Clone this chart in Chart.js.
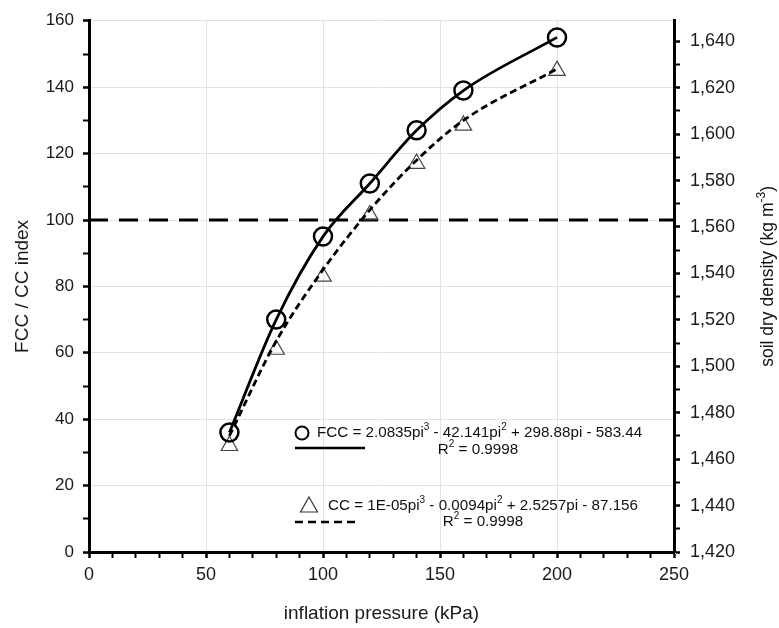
<!DOCTYPE html>
<html lang="en">
<head>
<meta charset="UTF-8">
<title>FCC / CC index vs inflation pressure</title>
<script src="https://cdn.jsdelivr.net/npm/chart.js@4.4.0/dist/chart.umd.min.js"></script>
<style>body{margin:0;background:#fff}</style>
</head>
<body>
<canvas id="chart" width="779" height="628"></canvas>
<script>
// values
const pressure = [60, 80, 100, 120, 140, 160, 200];
const fccIndex = [36, 70, 95, 111, 127, 139, 155];
const ccIndex = [32, 61, 83, 101.5, 117, 128.5, 145];
const ccTrend = [35, 63.5, 85, 103, 118, 130, 145.5];
const refLevel = 100;
const xRange = [0, 250];
const indexRange = [0, 160];
const densityRange = [1420, 1648.8];

const fccLabel = [['FCC = 2.0835pi'], ['3', 1], [' - 42.141pi'], ['2', 1], [' + 298.88pi - 583.44']];
const ccLabel = [['CC = 1E-05pi'], ['3', 1], [' - 0.0094pi'], ['2', 1], [' + 2.5257pi - 87.156']];
const r2Label = [['R'], ['2', 1], [' = 0.9998']];

const FONT = '"Liberation Sans", Arial, sans-serif';

function pts(xs, ys) {
    return xs.map((x, i) => ({x: x, y: ys[i]}));
}

function drawRich(ctx, parts, x, y, align, size) {
    const base = size + 'px ' + FONT;
    const sup = Math.round(size * 0.66) + 'px ' + FONT;
    let w = 0;
    parts.forEach(p => { ctx.font = p[1] ? sup : base; w += ctx.measureText(p[0]).width; });
    let cx = align === 'center' ? x - w / 2 : x;
    ctx.textAlign = 'left';
    ctx.textBaseline = 'middle';
    parts.forEach(p => {
        ctx.font = p[1] ? sup : base;
        ctx.fillText(p[0], cx, p[1] ? y - size * 0.35 : y);
        cx += ctx.measureText(p[0]).width;
    });
}

// equation boxes + right axis title
const extras = {
    id: 'extras',
    afterDraw(chart) {
        const ctx = chart.ctx;
        const ca = chart.chartArea;
        ctx.save();
        ctx.fillStyle = '#111';
        ctx.strokeStyle = '#000';

        // FCC entry
        let lx = ca.left + 213, ly = 433;
        ctx.lineWidth = 2;
        ctx.beginPath();
        ctx.arc(lx, ly, 6.5, 0, Math.PI * 2);
        ctx.stroke();
        drawRich(ctx, fccLabel, lx + 15, ly, 'left', 15.2);
        drawRich(ctx, r2Label, ca.left + 389, ly + 17, 'center', 15.2);
        ctx.lineWidth = 2.5;
        ctx.beginPath();
        ctx.moveTo(lx - 7, ly + 15);
        ctx.lineTo(lx + 63, ly + 15);
        ctx.stroke();

        // CC entry
        lx = ca.left + 220; ly = 506;
        ctx.lineWidth = 1.2;
        ctx.strokeStyle = '#333';
        ctx.beginPath();
        ctx.moveTo(lx, ly - 9);
        ctx.lineTo(lx + 8.5, ly + 6);
        ctx.lineTo(lx - 8.5, ly + 6);
        ctx.closePath();
        ctx.stroke();
        drawRich(ctx, ccLabel, lx + 19, ly, 'left', 15.2);
        drawRich(ctx, r2Label, ca.left + 394, ly + 16, 'center', 15.2);
        ctx.strokeStyle = '#000';
        ctx.lineWidth = 2.5;
        ctx.setLineDash([8, 5]);
        ctx.beginPath();
        ctx.moveTo(lx - 14, ly + 16);
        ctx.lineTo(lx + 50, ly + 16);
        ctx.stroke();
        ctx.setLineDash([]);

        // right axis title, reading bottom to top
        ctx.translate(768, (ca.top + ca.bottom) / 2 - 10);
        ctx.rotate(-Math.PI / 2);
        drawRich(ctx, [['soil dry density (kg m'], ['-3', 1], [')']], 0, 0, 'center', 17.5);
        ctx.restore();
    }
};

const gridFor = (major) => ({
    color: c => (c.tick && c.tick.value % major === 0) ? '#e2e2e2' : 'rgba(0,0,0,0)',
    lineWidth: 1,
    tickColor: '#000',
    tickWidth: c => (c.tick && c.tick.value % major === 0) ? 2.5 : 2,
    tickLength: 6
});

new Chart(document.getElementById('chart').getContext('2d'), {
    type: 'line',
    data: {
        datasets: [
            {
                label: 'FCC',
                data: pts(pressure, fccIndex),
                borderColor: '#000',
                borderWidth: 2.8,
                cubicInterpolationMode: 'monotone',
                pointStyle: 'circle',
                pointRadius: 9,
                pointBorderWidth: 2.5,
                pointBorderColor: '#000',
                pointBackgroundColor: 'rgba(0,0,0,0)',
                yAxisID: 'y',
                order: 1
            },
            {
                label: 'CC trend',
                data: pts(pressure, ccTrend),
                borderColor: '#000',
                borderWidth: 2.8,
                borderDash: [7, 4],
                cubicInterpolationMode: 'monotone',
                pointRadius: 0,
                yAxisID: 'y',
                order: 2
            },
            {
                label: 'CC',
                data: pts(pressure, ccIndex),
                showLine: false,
                pointStyle: 'triangle',
                pointRadius: 9.5,
                pointBorderWidth: 1.2,
                pointBorderColor: '#444',
                pointBackgroundColor: 'rgba(0,0,0,0)',
                yAxisID: 'y',
                order: 3
            },
            {
                label: 'index 100',
                data: pts(xRange, [refLevel, refLevel]),
                borderColor: '#000',
                borderWidth: 3,
                borderDash: [19, 11],
                pointRadius: 0,
                yAxisID: 'y',
                order: 4
            }
        ]
    },
    options: {
        responsive: false,
        animation: false,
        layout: {padding: {top: 17, left: 0, right: 0, bottom: 0}},
        plugins: {legend: {display: false}, tooltip: {enabled: false}},
        scales: {
            x: {
                type: 'linear',
                min: xRange[0],
                max: xRange[1],
                afterFit: s => { s.height = 76; },
                grid: gridFor(50),
                border: {color: '#000', width: 3},
                ticks: {
                    stepSize: 10,
                    autoSkip: false,
                    maxRotation: 0,
                    padding: 6,
                    color: '#1a1a1a',
                    font: {family: FONT, size: 18},
                    callback: v => v % 50 === 0 ? String(v) : ''
                },
                title: {
                    display: true,
                    text: 'inflation pressure (kPa)',
                    color: '#1a1a1a',
                    font: {family: FONT, size: 19},
                    padding: {top: 4, bottom: 3}
                }
            },
            y: {
                type: 'linear',
                position: 'left',
                min: indexRange[0],
                max: indexRange[1],
                afterFit: s => { s.width = 89; },
                grid: gridFor(20),
                border: {color: '#000', width: 3},
                ticks: {
                    stepSize: 10,
                    autoSkip: false,
                    padding: 9,
                    color: '#1a1a1a',
                    font: {family: FONT, size: 17},
                    callback: v => v % 20 === 0 ? String(v) : ''
                },
                title: {
                    display: true,
                    text: 'FCC / CC index',
                    color: '#1a1a1a',
                    font: {family: FONT, size: 19},
                    padding: {top: 11, bottom: 4}
                }
            },
            y2: {
                type: 'linear',
                position: 'right',
                min: densityRange[0],
                max: densityRange[1],
                afterFit: s => { s.width = 105; },
                grid: Object.assign(gridFor(20), {drawOnChartArea: false}),
                border: {color: '#000', width: 3},
                ticks: {
                    stepSize: 10,
                    includeBounds: false,
                    autoSkip: false,
                    padding: 10,
                    color: '#1a1a1a',
                    font: {family: FONT, size: 18},
                    callback: v => v % 20 === 0 ? v.toLocaleString('en-US') : ''
                }
            }
        }
    },
    plugins: [extras]
});
</script>
</body>
</html>
